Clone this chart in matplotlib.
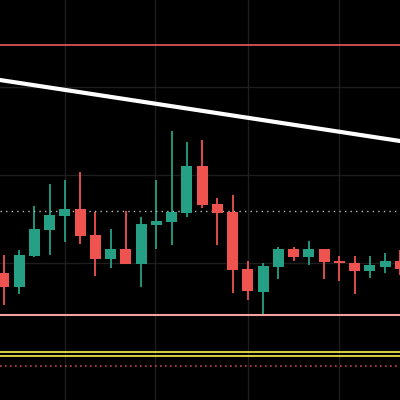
import numpy as np
import matplotlib.pyplot as plt

# OHLC (price units; higher = up)
opens  = [127, 113, 144, 170, 184, 191, 165, 141, 151, 136, 175, 178, 187, 234, 196, 188, 131, 108, 133, 151, 143, 151, 139, 137, 129, 133, 139]
closes = [113, 145, 171, 185, 191, 164, 141, 151, 136, 176, 179, 188, 234, 195, 187, 130, 109, 134, 151, 143, 151, 138, 137, 129, 135, 139, 131]
highs  = [145, 150, 194, 216, 220, 228, 188, 171, 189, 183, 220, 269, 258, 260, 202, 205, 139, 137, 153, 153, 159, 151, 144, 144, 144, 147, 150]
lows   = [95, 106, 143, 145, 158, 156, 124, 132, 136, 113, 151, 155, 183, 192, 155, 107, 100, 86, 121, 139, 135, 121, 119, 106, 122, 127, 125]

res_line = 355
trend_start, trend_end = 320, 259
mid_dotted = 189
support = 85
yellow_lines = [48, 44]
low_dotted = 34

green, red = "#26a085", "#ef5350"

fig = plt.figure(figsize=(4, 4), dpi=100, facecolor="black")
ax = fig.add_axes([0, 0, 1, 1], facecolor="black")
x = np.arange(len(opens))
xmin, xmax = -0.26, 25.97
ax.set_xlim(xmin, xmax)
ax.set_ylim(0, 400)

for gx in [4.0, 9.9, 16.0, 22.0]:
    ax.axvline(gx, color="#1e1e1e", lw=1, zorder=0)
for gy in [313, 225, 137, 49]:
    ax.axhline(gy, color="#1e1e1e", lw=1, zorder=0)

for i in x:
    c = green if closes[i] >= opens[i] else red
    ax.vlines(i, lows[i], highs[i], color=c, lw=1.3, zorder=2)
    lo, hi = sorted([opens[i], closes[i]])
    ax.bar(i, max(hi - lo, 1.5), bottom=lo, width=0.72, color=c, zorder=3)

ax.axhline(res_line, color="#f05a5a", lw=1.2)
ax.plot([xmin, xmax], [trend_start, trend_end], color="white", lw=3, zorder=4)
ax.axhline(mid_dotted, color="#bbbbbb", lw=1, ls=(0, (1, 3)))
ax.axhline(support, color="#f4a0a0", lw=1.5)
for yl in yellow_lines:
    ax.axhline(yl, color="#e8e040", lw=1.3)
ax.axhline(low_dotted, color="#c04060", lw=1.2, ls=(0, (1, 2)))

ax.axis("off")
fig.savefig("out.png", dpi=100, facecolor="black")
